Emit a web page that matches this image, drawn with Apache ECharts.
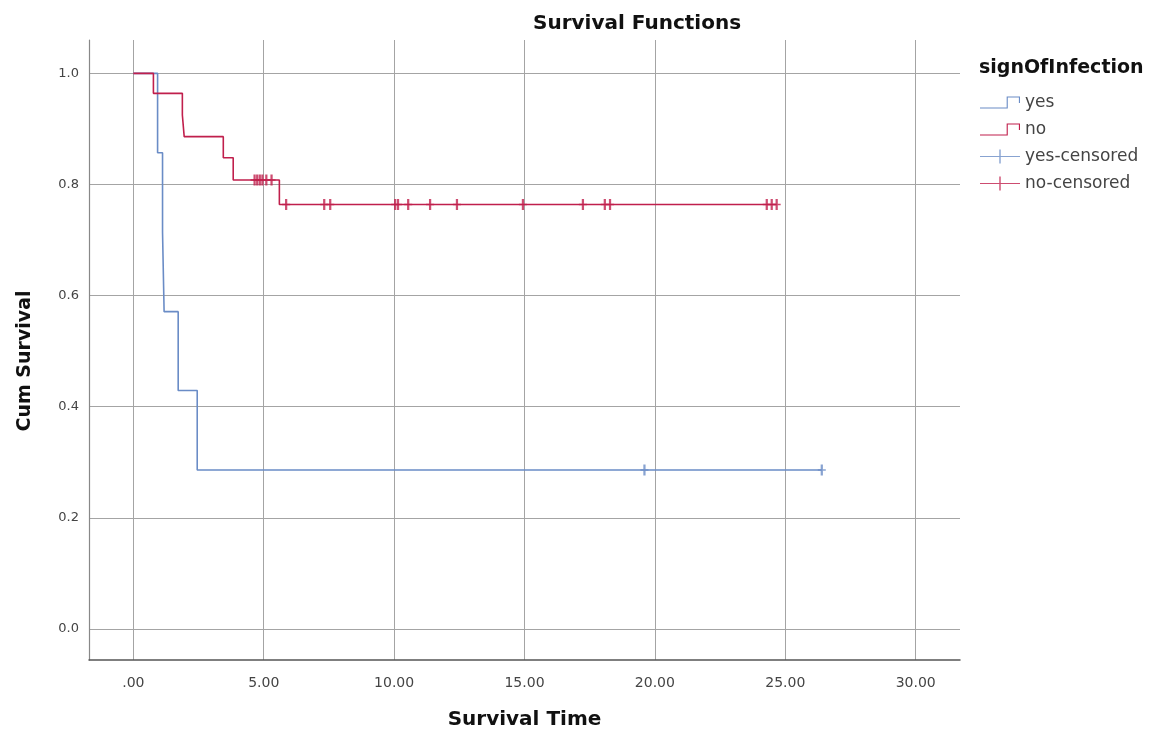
<!DOCTYPE html>
<html>
<head>
<meta charset="utf-8">
<script src="https://cdn.jsdelivr.net/npm/echarts@6/dist/echarts.min.js"></script>
<style>html,body{margin:0;padding:0;background:#fff}#c{width:1156px;height:736px}</style>
</head>
<body>
<div id="c"></div>
<script>
// ---- data ----
const xTicks = [0, 5, 10, 15, 20, 25, 30];
const yTicks = [0, 0.2, 0.4, 0.6, 0.8, 1.0];

const yesEventTimes = [0.93, 1.12, 1.18, 1.72, 2.45];
const yesSurvival   = [0.857, 0.714, 0.571, 0.429, 0.286];
const yesCensorTimes    = [19.6, 26.4];
const yesCensorSurvival = [0.286, 0.286];

const noEventTimes = [0.77, 1.88, 1.95, 3.45, 3.83, 5.6];
const noSurvival   = [0.964, 0.925, 0.886, 0.848, 0.808, 0.764];
const noCensorTimes    = [4.65, 4.75, 4.85, 4.95, 5.1, 5.3, 5.86, 7.32, 7.55, 10.04, 10.15, 10.54, 11.38, 12.41, 14.94, 17.24, 18.08, 18.28, 24.29, 24.48, 24.67];
const noCensorSurvival = [0.808, 0.808, 0.808, 0.808, 0.808, 0.808, 0.764, 0.764, 0.764, 0.764, 0.764, 0.764, 0.764, 0.764, 0.764, 0.764, 0.764, 0.764, 0.764, 0.764, 0.764];

// ---- build ----
function stepData(times, surv, cTimes) {
  const d = [[0, 1]];
  times.forEach((t, i) => d.push([t, surv[i]]));
  const last = Math.max(...cTimes, ...times);
  d.push([last, surv[surv.length - 1]]);
  return d;
}
function pts(t, s) { return t.map((v, i) => [v, s[i]]); }

const BLUE = '#6a8cc6';
const RED = '#c01f4c';
const plus = 'path://M3.6,0 L6.4,0 L6.4,4.3 L10,4.3 L10,5.7 L6.4,5.7 L6.4,10 L3.6,10 L3.6,5.7 L0,5.7 L0,4.3 L3.6,4.3 Z';
const stepIcon = 'path://M0,12 L24,12 L24,2 L36,2 L36,8 L35,8 L35,3 L25,3 L25,13 L0,13 Z';
const censIcon = 'path://M0,6.5 L40,6.5 L40,7.5 L0,7.5 Z M19.3,0 L20.7,0 L20.7,14 L19.3,14 Z';
const FONT = 'DejaVu Sans, Verdana, sans-serif';

const chart = echarts.init(document.getElementById('c'), null, {renderer: 'canvas'});
chart.setOption({
  animation: false,
  backgroundColor: '#fff',
  title: [
    {text: 'Survival Functions', left: 528, top: 9,
     textStyle: {fontFamily: FONT, fontSize: 20, fontWeight: 'bold', color: '#111'}},
    {text: 'signOfInfection', left: 974, top: 54,
     textStyle: {fontFamily: FONT, fontSize: 19, fontWeight: 'bold', color: '#111'}}
  ],
  legend: {
    orient: 'vertical', left: 975, top: 89,
    itemWidth: 40, itemHeight: 14, itemGap: 10,
    textStyle: {fontFamily: FONT, fontSize: 17, color: '#444'},
    data: [
      {name: 'yes', icon: stepIcon},
      {name: 'no', icon: stepIcon},
      {name: 'yes-censored', icon: censIcon},
      {name: 'no-censored', icon: censIcon}
    ]
  },
  grid: {left: 89, right: 196, top: 40, bottom: 76},
  xAxis: {
    type: 'value', min: -1.7, max: 31.7,
    name: 'Survival Time', nameLocation: 'middle', nameGap: 50,
    nameTextStyle: {fontFamily: FONT, fontSize: 20, fontWeight: 'bold', color: '#111'},
    axisLine: {show: true, onZero: false, lineStyle: {color: '#555', width: 1.5}},
    axisTick: {show: false, customValues: xTicks},
    axisLabel: {customValues: xTicks, margin: 16, fontFamily: FONT, fontSize: 14, color: '#444',
      formatter: v => v === 0 ? '.00' : v.toFixed(2)},
    splitLine: {show: true, lineStyle: {color: '#a4a4a4', width: 1}}
  },
  yAxis: {
    type: 'value', min: -0.056, max: 1.06,
    name: 'Cum Survival', nameLocation: 'middle', nameGap: 54, nameRotate: 90,
    nameTextStyle: {fontFamily: FONT, fontSize: 19, fontWeight: 'bold', color: '#111', padding: [0, 22, 0, 0]},
    axisLine: {show: true, onZero: false, lineStyle: {color: '#888', width: 1.2}},
    axisTick: {show: false, customValues: yTicks},
    axisLabel: {customValues: yTicks, margin: 10, fontFamily: FONT, fontSize: 13, color: '#444',
      formatter: v => v.toFixed(1)},
    splitLine: {show: true, lineStyle: {color: '#a4a4a4', width: 1}}
  },
  series: [
    {name: 'yes', type: 'line', step: 'end', showSymbol: false, symbol: 'none',
     data: stepData(yesEventTimes, yesSurvival, yesCensorTimes),
     lineStyle: {color: BLUE, width: 1.6}, itemStyle: {color: BLUE}, z: 3},
    {name: 'no', type: 'line', step: 'end', showSymbol: false, symbol: 'none',
     data: stepData(noEventTimes, noSurvival, noCensorTimes),
     lineStyle: {color: RED, width: 1.6}, itemStyle: {color: RED}, z: 4},
    {name: 'yes-censored', type: 'scatter', symbol: plus, symbolSize: [8, 11],
     data: pts(yesCensorTimes, yesCensorSurvival), itemStyle: {color: BLUE}, z: 5},
    {name: 'no-censored', type: 'scatter', symbol: plus, symbolSize: [8, 11],
     data: pts(noCensorTimes, noCensorSurvival), itemStyle: {color: RED}, z: 6}
  ]
});
</script>
</body>
</html>
